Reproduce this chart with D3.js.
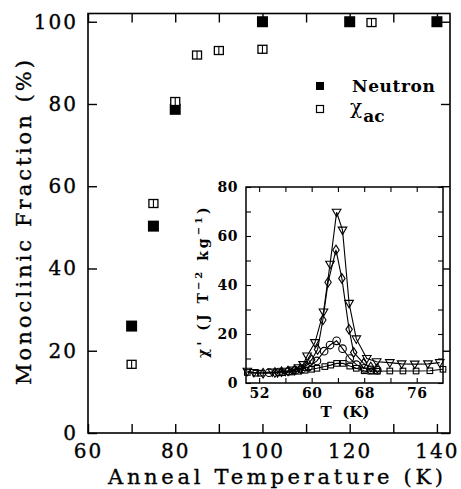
<!DOCTYPE html>
<html><head><meta charset="utf-8">
<script src="https://cdn.jsdelivr.net/npm/d3@7"></script>
<style>body{margin:0;background:#fff}svg{display:block}</style>
</head><body><svg id="c" width="461" height="489"></svg>
<script>
// ---- main panel data ----
const neutronT = [70, 75, 80, 100, 120, 140];
const neutronF = [26, 50.3, 78.7, 100, 100, 100];
const chiT = [70, 75, 80, 85, 90, 100, 125];
const chiF = [16.7, 55.8, 80.6, 91.9, 93.0, 93.3, 99.8];
const mainXTicks = [60, 70, 80, 90, 100, 110, 120, 130, 140];
const mainYTicks = [0, 20, 40, 60, 80, 100];

// ---- inset data (chi' vs T) ----
const triT = [50.2, 51.2, 54.0, 54.8, 56.0, 57.0, 58.0, 58.7, 59.3, 60.5, 61.8, 62.8, 63.8, 64.7, 65.7, 66.8, 68.4, 69.9, 71.9, 73.7, 75.7, 77.7, 79.5];
const triY = [4.8, 4.3, 4.5, 4.2, 4.8, 5.3, 6.2, 7.5, 11.0, 16.5, 29.0, 48.5, 69.7, 62.4, 32.5, 18.0, 10.0, 8.7, 8.3, 7.8, 7.7, 7.8, 8.3];
const diaT = [52.6, 54.4, 55.4, 56.4, 57.4, 58.3, 59.2, 60.0, 60.9, 61.7, 62.5, 63.7, 64.6, 65.7, 66.4, 67.9, 69.0, 70.0];
const diaY = [4.0, 4.3, 4.6, 4.9, 5.3, 5.9, 7.0, 9.5, 13.7, 25.7, 41.1, 54.3, 42.7, 21.9, 12.5, 8.0, 6.5, 6.0];
const cirT = [53.5, 55.0, 56.5, 57.5, 58.5, 59.5, 60.8, 61.9, 62.8, 63.8, 64.7, 65.8, 66.8, 68.0, 69.0, 70.0];
const cirY = [4.2, 4.5, 4.8, 5.2, 5.6, 6.5, 9.0, 13.0, 15.5, 17.2, 14.0, 10.0, 7.5, 6.0, 5.4, 5.2];
const sqT = [50.2, 51.5, 52.2, 55.5, 57.0, 58.0, 59.0, 60.0, 60.8, 62.0, 62.9, 63.8, 64.8, 65.8, 66.8, 68.0, 69.0, 70.0, 71.9, 73.9, 75.9, 78.0, 80.0];
const sqY = [4.3, 4.0, 4.0, 4.2, 4.5, 4.8, 5.2, 5.6, 6.0, 6.7, 7.3, 8.0, 8.0, 6.9, 6.0, 5.0, 4.8, 4.8, 4.9, 4.9, 4.9, 5.0, 5.6];
const insetXTicks = [52, 56, 60, 64, 68, 72, 76];
const insetXLabels = [52, 60, 68, 76];
const insetYTicks = [0, 10, 20, 30, 40, 50, 60, 70, 80];
const insetYLabels = [0, 20, 40, 60, 80];

const svg = d3.select("#c");
const F = "DejaVu Serif, serif";

// ---- main scales ----
const x = d3.scaleLinear().domain([60, 143]).range([88, 450]);
const y = d3.scaleLinear().domain([0, 102]).range([433, 13.5]);

function styleAxis(g, fs, weight, ls, sw) {
  g.select(".domain").remove();
  g.selectAll(".tick line").attr("stroke", "#000").attr("stroke-width", 1.4);
  g.selectAll("text").attr("font-family", F).attr("font-size", fs).attr("font-weight", weight)
    .attr("fill", "#000").attr("letter-spacing", ls)
    .attr("stroke", "#000").attr("stroke-width", sw || 0);
}

const gm = svg.append("g");
gm.append("g").attr("transform", `translate(0,${y(0)})`)
  .call(d3.axisBottom(x).tickValues(mainXTicks).tickSize(-9).tickPadding(11)
    .tickFormat(d => d % 20 === 0 ? d : ""))
  .call(g => styleAxis(g, 20, "normal", "2px", 0.35));
gm.append("g").attr("transform", `translate(0,${y.range()[1]})`)
  .call(d3.axisTop(x).tickValues(mainXTicks).tickSize(-9).tickFormat(""))
  .call(g => styleAxis(g, 20, "normal", "0"));
gm.append("g").attr("transform", `translate(${x(60)},0)`)
  .call(d3.axisLeft(y).tickValues(mainYTicks).tickSize(-9).tickPadding(10))
  .call(g => styleAxis(g, 20, "normal", "2px", 0.35));
gm.append("g").attr("transform", `translate(${x.range()[1]},0)`)
  .call(d3.axisRight(y).tickValues(mainYTicks).tickSize(-9).tickFormat(""))
  .call(g => styleAxis(g, 20, "normal", "0"));
gm.append("rect").attr("x", x(60)).attr("y", y.range()[1])
  .attr("width", x.range()[1] - x(60)).attr("height", y(0) - y.range()[1])
  .attr("fill", "none").attr("stroke", "#000").attr("stroke-width", 1.6);

// axis titles
svg.append("text").attr("x", 108).attr("y", 484)
  .attr("font-family", F).attr("font-size", 21).attr("stroke", "#000").attr("stroke-width", 0.35)
  .attr("textLength", 335).attr("lengthAdjust", "spacing")
  .text("Anneal Temperature (K)");
svg.append("text").attr("transform", "translate(31,385) rotate(-90)")
  .attr("font-family", F).attr("font-size", 21).attr("stroke", "#000").attr("stroke-width", 0.35)
  .attr("textLength", 325).attr("lengthAdjust", "spacing")
  .text("Monoclinic Fraction (%)");

// main data
const neutron = neutronT.map((t, i) => ({t, f: neutronF[i]}));
const chi = chiT.map((t, i) => ({t, f: chiF[i]}));
gm.selectAll("rect.n").data(neutron).enter().append("rect").attr("class", "n")
  .attr("x", d => x(d.t) - 5.5).attr("y", d => y(d.f) - 5.5)
  .attr("width", 11).attr("height", 11).attr("fill", "#000");
const cg = gm.selectAll("g.c").data(chi).enter().append("g").attr("class", "c")
  .attr("transform", d => `translate(${x(d.t)},${y(d.f)})`);
cg.append("rect").attr("x", -4.5).attr("y", -4).attr("width", 9).attr("height", 8)
  .attr("fill", "#fff").attr("stroke", "#000").attr("stroke-width", 1.3);
cg.append("line").attr("x1", 0).attr("x2", 0).attr("y1", -4).attr("y2", 4)
  .attr("stroke", "#000").attr("stroke-width", 1.1);

// legend
svg.append("rect").attr("x", 316).attr("y", 82).attr("width", 8).attr("height", 8).attr("fill", "#000");
svg.append("text").attr("x", 352).attr("y", 92).attr("font-family", F).attr("font-size", 17)
  .attr("font-weight", "bold").attr("letter-spacing", "0.6px").text("Neutron");
svg.append("rect").attr("x", 316.5).attr("y", 105.5).attr("width", 7).attr("height", 7)
  .attr("fill", "#fff").attr("stroke", "#000").attr("stroke-width", 1.2);
const chiTxt = svg.append("text").attr("x", 350).attr("y", 114).attr("font-family", F);
chiTxt.append("tspan").attr("font-size", 20).text("χ");
chiTxt.append("tspan").attr("font-size", 17).attr("font-weight", "bold").attr("dy", 8).attr("dx", 1).text("ac");

// ---- inset ----
const ix = d3.scaleLinear().domain([50, 80]).range([246, 443]);
const iy = d3.scaleLinear().domain([0, 80]).range([383, 187]);
const gi = svg.append("g");
gi.append("rect").attr("x", 246).attr("y", 187).attr("width", 197).attr("height", 196).attr("fill", "#fff");
gi.append("g").attr("transform", `translate(0,${iy(0)})`)
  .call(d3.axisBottom(ix).tickValues(insetXTicks).tickSize(-5).tickPadding(5)
    .tickFormat(d => insetXLabels.includes(d) ? d : ""))
  .call(g => styleAxis(g, 14, "bold", "0.5px"));
gi.append("g").attr("transform", `translate(0,${iy(80)})`)
  .call(d3.axisTop(ix).tickValues(insetXTicks).tickSize(-5).tickFormat(""))
  .call(g => styleAxis(g, 14, "bold", "0"));
gi.append("g").attr("transform", `translate(${ix(50)},0)`)
  .call(d3.axisLeft(iy).tickValues(insetYTicks).tickSize(-5).tickPadding(8)
    .tickFormat(d => insetYLabels.includes(d) ? d : ""))
  .call(g => styleAxis(g, 14, "bold", "0.5px"));
gi.append("g").attr("transform", `translate(${ix(80)},0)`)
  .call(d3.axisRight(iy).tickValues(insetYTicks).tickSize(-5).tickFormat(""))
  .call(g => styleAxis(g, 14, "bold", "0"));
gi.selectAll(".tick line").attr("stroke-width", 1.1);
gi.append("rect").attr("x", 246).attr("y", 187).attr("width", 197).attr("height", 196)
  .attr("fill", "none").attr("stroke", "#000").attr("stroke-width", 1.5);

svg.append("text").attr("x", 345).attr("y", 417).attr("text-anchor", "middle")
  .attr("font-family", F).attr("font-size", 15).attr("font-weight", "bold")
  .attr("xml:space", "preserve").text("T  (K)");
const yt = svg.append("text").attr("transform", "translate(208,358) rotate(-90)")
  .attr("font-family", F).attr("font-size", 14).attr("font-weight", "bold")
  .attr("letter-spacing", "3px");
yt.append("tspan").text("χ' (J T");
yt.append("tspan").attr("font-size", 10).attr("dy", -6).text("−2");
yt.append("tspan").attr("dy", 6).text(" kg");
yt.append("tspan").attr("font-size", 10).attr("dy", -6).text("−1");
yt.append("tspan").attr("dy", 6).text(")");

const series = [
  {T: sqT, Y: sqY, shape: "square"},
  {T: cirT, Y: cirY, shape: "circle"},
  {T: diaT, Y: diaY, shape: "diamond"},
  {T: triT, Y: triY, shape: "tri"}
];
const line = d3.line().x(d => ix(d[0])).y(d => iy(d[1]));
series.forEach(s => {
  const pts = s.T.map((t, i) => [t, s.Y[i]]);
  gi.append("path").attr("d", line(pts)).attr("fill", "none").attr("stroke", "#000").attr("stroke-width", 1.1);
});
series.forEach(s => {
  const pts = s.T.map((t, i) => [t, s.Y[i]]);
  const g = gi.append("g");
  pts.forEach(p => {
    const cx = ix(p[0]), cy = iy(p[1]);
    let el;
    if (s.shape === "square") el = g.append("rect").attr("x", cx - 2.8).attr("y", cy - 2.8).attr("width", 5.6).attr("height", 5.6);
    else if (s.shape === "circle") el = g.append("circle").attr("cx", cx).attr("cy", cy).attr("r", 3.8);
    else if (s.shape === "diamond") el = g.append("path").attr("d", `M${cx},${cy - 4.8}L${cx + 3.2},${cy}L${cx},${cy + 4.8}L${cx - 3.2},${cy}Z`);
    else el = g.append("path").attr("d", `M${cx - 4.3},${cy - 3}L${cx + 4.3},${cy - 3}L${cx},${cy + 4.5}Z`);
    el.attr("fill", "none").attr("stroke", "#000").attr("stroke-width", 1.1);
  });
});
</script></body></html>
